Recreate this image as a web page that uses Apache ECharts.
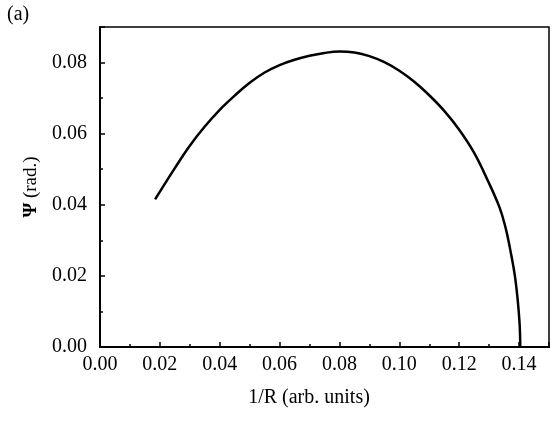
<!DOCTYPE html>
<html>
<head>
<meta charset="utf-8">
<script src="https://cdn.jsdelivr.net/npm/echarts@6/dist/echarts.min.js"></script>
<style>html,body{margin:0;padding:0;background:#fff;}#c{width:552px;height:421px;}</style>
</head>
<body>
<div id="c"></div>
<script>
var xValues = [0.0184, 0.0250, 0.0300, 0.0350, 0.0400, 0.0450, 0.0500, 0.0550, 0.0600, 0.0650, 0.0700, 0.0750, 0.0800, 0.0850, 0.0900, 0.0950, 0.1000, 0.1050, 0.1100, 0.1150, 0.1200, 0.1250, 0.1295, 0.1335, 0.1355, 0.1370, 0.1388, 0.1401, 0.1404];
var yValues = [0.0415, 0.0503, 0.0566, 0.0620, 0.0667, 0.0707, 0.0743, 0.0772, 0.0793, 0.0808, 0.0819, 0.0827, 0.0831, 0.0828, 0.0818, 0.0801, 0.0777, 0.0746, 0.0708, 0.0664, 0.0611, 0.0546, 0.0469, 0.0392, 0.0335, 0.0276, 0.0188, 0.0076, 0.0000];
var xTickLabels = ['0.00','0.02','0.04','0.06','0.08','0.10','0.12','0.14'];
var yTickLabels = ['0.00','0.02','0.04','0.06','0.08'];
var panelLabel = '(a)';
var xTitle = '1/R (arb. units)';
var yTitleSymbol = 'Ψ';
var yTitleRest = ' (rad.)';

var data = xValues.map(function (x, i) { return [x, yValues[i]]; });
var font = 'Liberation Serif, Times New Roman, serif';
var chart = echarts.init(document.getElementById('c'));
chart.setOption({
  animation: false,
  backgroundColor: '#fff',
  grid: { left: 100, right: 3, top: 27, bottom: 74, show: true, borderColor: '#000', borderWidth: 1.5, backgroundColor: 'transparent' },
  xAxis: {
    type: 'value', min: 0, max: 0.15, interval: 0.02,
    axisLine: { show: true, onZero: false, lineStyle: { color: '#000', width: 2 } },
    axisTick: { show: true, inside: true, length: 5, lineStyle: { color: '#000', width: 1.5 } },
    minorTick: { show: true, splitNumber: 2, length: 3, lineStyle: { color: '#000', width: 1.5 } },
    splitLine: { show: false },
    axisLabel: {
      color: '#000', fontFamily: font, fontSize: 20, margin: 8,
      formatter: function (v) { var s = v.toFixed(2); return xTickLabels.indexOf(s) >= 0 ? s : ''; }
    }
  },
  yAxis: {
    type: 'value', min: 0, max: 0.09, interval: 0.02,
    axisLine: { show: true, onZero: false, lineStyle: { color: '#000', width: 2 } },
    axisTick: { show: true, inside: true, length: 5, lineStyle: { color: '#000', width: 1.5 } },
    minorTick: { show: true, splitNumber: 2, length: 3, lineStyle: { color: '#000', width: 1.5 } },
    splitLine: { show: false },
    axisLabel: {
      color: '#000', fontFamily: font, fontSize: 20, margin: 13,
      formatter: function (v) { var s = v.toFixed(2); return yTickLabels.indexOf(s) >= 0 ? s : ''; }
    }
  },
  graphic: [
    { type: 'text', left: 7, top: 5, style: { text: panelLabel, fontFamily: font, fontSize: 20, fill: '#000' } },
    { type: 'text', x: 309, y: 398, style: { text: xTitle, fontFamily: font, fontSize: 20, fill: '#000', align: 'center', verticalAlign: 'middle' } },
    { type: 'text', x: 31, y: 187, rotation: Math.PI / 2,
      style: { text: '{b|' + yTitleSymbol + '}{n|' + yTitleRest + '}', align: 'center', verticalAlign: 'middle',
        rich: { b: { fontFamily: font, fontSize: 19, fontWeight: 'bold', fill: '#000', color: '#000' }, n: { fontFamily: font, fontSize: 19, fill: '#000', color: '#000' } } } }
  ],
  series: [{
    type: 'line', data: data, smooth: 0.4, symbol: 'none',
    lineStyle: { color: '#000', width: 2.5 }
  }]
});
</script>
</body>
</html>
